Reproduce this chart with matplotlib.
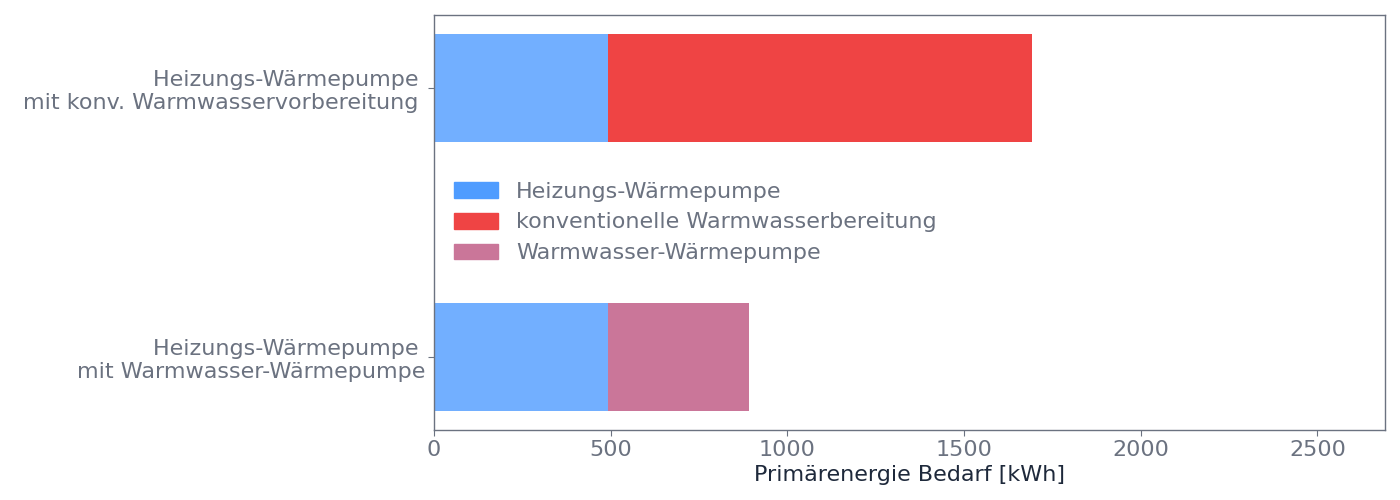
import matplotlib
matplotlib.use("Agg")
import matplotlib.pyplot as plt
from matplotlib.patches import Patch
import numpy as np

# Daten (kWh)
categories = ['Heizungs-Wärmepumpe \nmit Warmwasser-Wärmepumpe',
              'Heizungs-Wärmepumpe \nmit konv. Warmwasservorbereitung ']
heizung = [492, 492]
konv_ww = [0, 1200]
ww_wp = [400, 0]

labels = ['Heizungs-Wärmepumpe', 'konventionelle Warmwasserbereitung', 'Warmwasser-Wärmepumpe']

c_blue_bar = '#72afff'
c_blue = '#4f9cff'
c_red = '#ef4444'
c_pink = '#ca7699'
c_text = '#6b7280'
c_spine = '#6b7280'

fig = plt.figure(figsize=(14, 5), dpi=100)
ax = fig.add_axes([0.31, 0.14, 0.679, 0.83])

y = np.arange(len(categories))
h = 0.4
ax.barh(y, heizung, h, color=c_blue_bar)
ax.barh(y, konv_ww, h, left=heizung, color=c_red)
ax.barh(y, ww_wp, h, left=heizung, color=c_pink)

ax.set_xlim(0, 2690)
ax.set_ylim(-0.271, 1.271)
ax.set_yticks(y)
ax.set_yticklabels(categories)
ax.set_xticks([0, 500, 1000, 1500, 2000, 2500])

ax.tick_params(axis='both', labelsize=16, colors=c_spine, labelcolor=c_text, length=4, width=0.8)
ax.tick_params(axis='y', pad=2)
ax.tick_params(axis='x', pad=3)
for s in ax.spines.values():
    s.set_color(c_spine)
    s.set_linewidth(1)

ax.set_xlabel('Primärenergie Bedarf [kWh]', fontsize=16, color='#1e293b', labelpad=4)

handles = [Patch(color=c_blue), Patch(color=c_red), Patch(color=c_pink)]
leg = ax.legend(handles, labels, loc='center left', bbox_to_anchor=(0.0, 0.5),
                frameon=False, fontsize=16, handlelength=2.0, handleheight=0.7,
                handletextpad=0.8, labelspacing=0.48, borderaxespad=0.5)
for t in leg.get_texts():
    t.set_color(c_text)

fig.savefig('out.png', dpi=100)
